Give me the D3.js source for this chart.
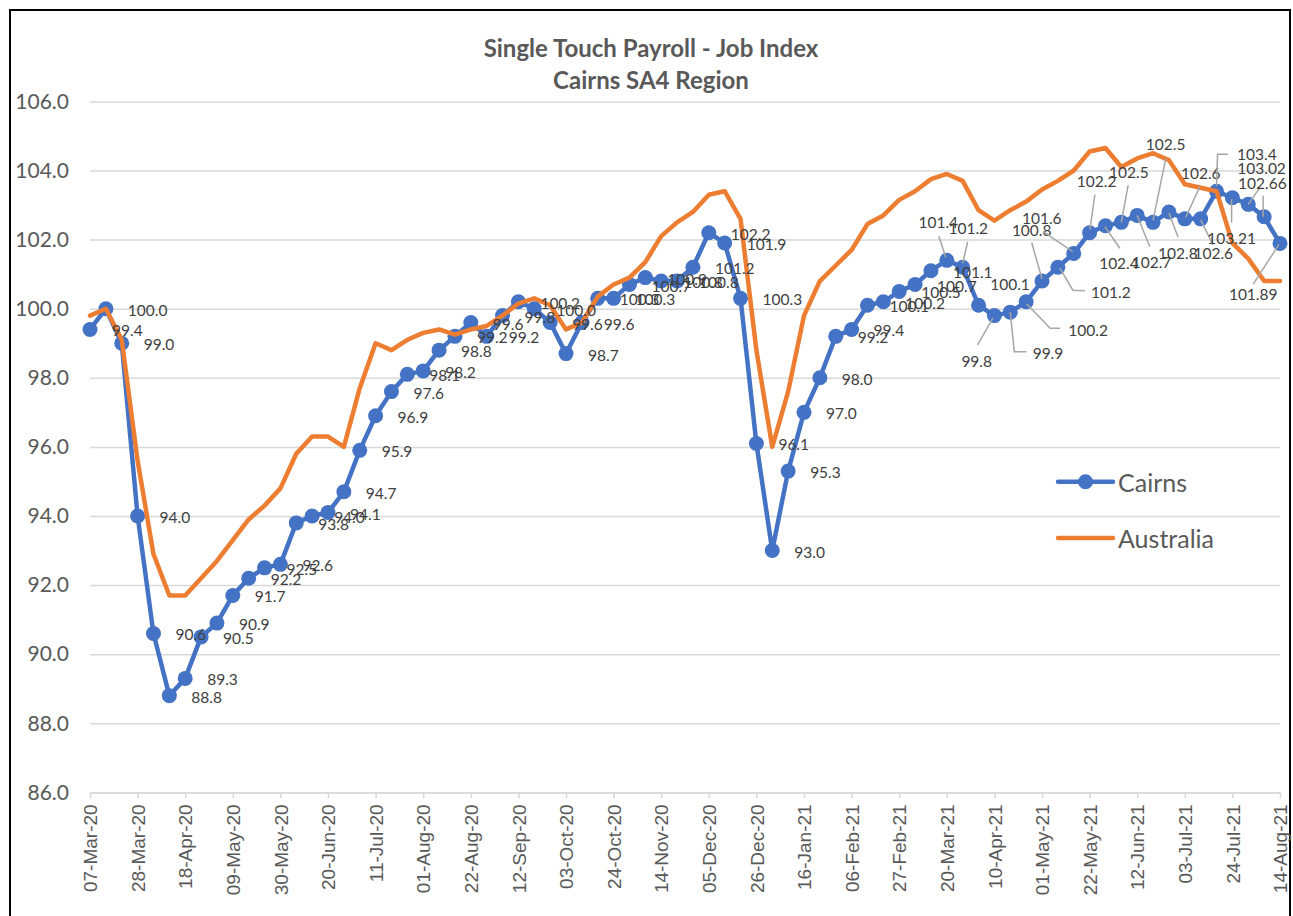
<!DOCTYPE html>
<html><head><meta charset="utf-8">
<script src="https://cdn.jsdelivr.net/npm/d3@7"></script>
<style>body{margin:0;background:#fff}svg{display:block}</style>
</head><body>
<svg id="c" width="1293" height="916"></svg>
<script>
// ---------- DATA ----------
const weeks = [
 "2020-03-07","2020-03-14","2020-03-21","2020-03-28","2020-04-04","2020-04-11","2020-04-18","2020-04-25",
 "2020-05-02","2020-05-09","2020-05-16","2020-05-23","2020-05-30","2020-06-06","2020-06-13","2020-06-20",
 "2020-06-27","2020-07-04","2020-07-11","2020-07-18","2020-07-25","2020-08-01","2020-08-08","2020-08-15",
 "2020-08-22","2020-08-29","2020-09-05","2020-09-12","2020-09-19","2020-09-26","2020-10-03","2020-10-10",
 "2020-10-17","2020-10-24","2020-10-31","2020-11-07","2020-11-14","2020-11-21","2020-11-28","2020-12-05",
 "2020-12-12","2020-12-19","2020-12-26","2021-01-02","2021-01-09","2021-01-16","2021-01-23","2021-01-30",
 "2021-02-06","2021-02-13","2021-02-20","2021-02-27","2021-03-06","2021-03-13","2021-03-20","2021-03-27",
 "2021-04-03","2021-04-10","2021-04-17","2021-04-24","2021-05-01","2021-05-08","2021-05-15","2021-05-22",
 "2021-05-29","2021-06-05","2021-06-12","2021-06-19","2021-06-26","2021-07-03","2021-07-10","2021-07-17",
 "2021-07-24","2021-07-31","2021-08-07","2021-08-14"];

const cairns = [
 99.4, 100.0, 99.0, 94.0, 90.6, 88.8, 89.3, 90.5, 90.9, 91.7,
 92.2, 92.5, 92.6, 93.8, 94.0, 94.1, 94.7, 95.9, 96.9, 97.6,
 98.1, 98.2, 98.8, 99.2, 99.6, 99.2, 99.8, 100.2, 100.0, 99.6,
 98.7, 99.6, 100.3, 100.3, 100.7, 100.9, 100.8, 100.8, 101.2, 102.2,
 101.9, 100.3, 96.1, 93.0, 95.3, 97.0, 98.0, 99.2, 99.4, 100.1,
 100.2, 100.5, 100.7, 101.1, 101.4, 101.2, 100.1, 99.8, 99.9, 100.2,
 100.8, 101.2, 101.6, 102.2, 102.4, 102.5, 102.7, 102.5, 102.8, 102.6,
 102.6, 103.4, 103.21, 103.02, 102.66, 101.89];

const australia = [
 99.8, 100.0, 99.1, 95.6, 92.9, 91.7, 91.7, 92.2, 92.7, 93.3,
 93.9, 94.3, 94.8, 95.8, 96.3, 96.3, 96.0, 97.7, 99.0, 98.8,
 99.1, 99.3, 99.4, 99.25, 99.4, 99.5, 99.8, 100.15, 100.3, 100.1,
 99.4, 99.6, 100.35, 100.7, 100.9, 101.35, 102.1, 102.5, 102.8, 103.3,
 103.4, 102.6, 98.8, 96.0, 97.6, 99.8, 100.8, 101.25, 101.7, 102.45,
 102.7, 103.15, 103.4, 103.75, 103.9, 103.7, 102.85, 102.55, 102.85, 103.1,
 103.45, 103.7, 104.0, 104.55, 104.65, 104.1, 104.35, 104.5, 104.3, 103.6,
 103.5, 103.4, 101.9, 101.45, 100.8, 100.8];

const yTicks = [86, 88, 90, 92, 94, 96, 98, 100, 102, 104, 106];
const xTickEvery = 3;
const seriesNames = ["Cairns", "Australia"];
const titleLines = ["Single Touch Payroll - Job Index", "Cairns SA4 Region"];

// ---------- LAYOUT (label nudges, relative to the point) ----------
const labelLayout = {
 54:{c:[-8.5,-38.6], l:[[-8,-24],[-1,-3]]},
 55:{c:[5.6,-39],   l:[[5,-25.5],[0,-4]]},
 56:{c:[31.5,-21.6]},
 57:{c:[-17.7,45],  l:[[-17,29.5],[-1.5,2.5]]},
 58:{c:[37.7,40.5], l:[[0,0],[4,39.5],[16,39.5]]},
 59:{c:[62,28],     l:[[0.5,2],[24,26.5],[34,26.5]]},
 60:{c:[-10.3,-51], l:[[-10.3,-38.5],[0,-2]]},
 61:{c:[53,24.5],   l:[[2,1],[15,23],[27,23.5]]},
 62:{c:[-32,-35],   l:[[-30.5,-21.7],[-1,-1.7]]},
 63:{c:[7,-51.5],   l:[[5.3,-38.2],[0.3,-3]]},
 64:{c:[13.5,37.5], l:[[-0.6,1],[14.4,22.5]]},
 65:{c:[7.5,-50.6], l:[[6.8,-37.3],[0,0]]},
 66:{c:[14.3,46.3], l:[[0,0],[12.6,31.3]]},
 67:{c:[12.5,-78.3],l:[[12.7,-64],[0,-2]]},
 68:{c:[8.9,40.7],  l:[[0,1],[9.2,25.3]]},
 69:{c:[16,-45.6],  l:[[15,-32.2],[1,-1.6]]},
 70:{c:[12.6,34.4], l:[[0,1],[12.4,26]]},
 71:{c:[40.4,-36.9],l:[[11.7,-37],[1,-37],[0,-5]]},
 72:{c:[-0.8,40.5], l:[[-0.8,1.5],[-0.8,25]]},
 73:{c:[13.3,-36],  l:[[0,0],[11.6,-16.7]]},
 74:{c:[-1.8,-34],  l:[[-1,0],[-1,-21]]},
 75:{c:[-26.8,50.8],l:[[-26.8,40.8],[-1,1]]}
};

// ---------- CHART ----------
const BLUE = "#4472C4", ORANGE = "#ED7D31";
const FONT = "Lato, 'Open Sans', sans-serif";
const parse = d3.timeParse("%Y-%m-%d");
const dates = weeks.map(parse);
const svg = d3.select("#c");
svg.append("rect").attr("width",1293).attr("height",916).attr("fill","#fff");

const pLeft = 90, pRight = 1280, pTop = 101.4, pBottom = 792.4;
const x = d3.scaleTime().domain(d3.extent(dates)).range([pLeft, pRight]);
const y = d3.scaleLinear().domain([86, 106]).range([pBottom, pTop]);

// frame
svg.append("rect").attr("x",10).attr("y",10).attr("width",1280).attr("height",1000)
  .attr("fill","none").attr("stroke","#000").attr("stroke-width",2);

// title
svg.append("g").selectAll("text").data(titleLines).join("text")
  .attr("x", 651).attr("y", (d,i) => 56.5 + i*32)
  .attr("text-anchor","middle").attr("font-family",FONT).attr("font-weight","bold")
  .attr("font-size",24).attr("fill","#595959").text(d => d);

// y axis with gridlines
const yAxis = svg.append("g").attr("transform",`translate(${pLeft},0)`)
  .call(d3.axisLeft(y).tickValues(yTicks).tickFormat(d3.format(".1f"))
        .tickSize(-(pRight-pLeft)).tickPadding(21));
yAxis.select(".domain").remove();
yAxis.selectAll(".tick line").attr("stroke","#D9D9D9").attr("stroke-width",1.5);
yAxis.selectAll(".tick text").attr("font-family",FONT).attr("font-size",21).attr("fill","#595959");

// x axis
const xTickVals = dates.filter((d,i) => i % xTickEvery === 0);
const xAxis = svg.append("g").attr("transform",`translate(0,${pBottom})`)
  .call(d3.axisBottom(x).tickValues(xTickVals).tickFormat(d3.timeFormat("%d-%b-%y")).tickSize(6).tickSizeOuter(0));
xAxis.select(".domain").attr("stroke","#D9D9D9").attr("stroke-width",1.5);
xAxis.selectAll(".tick line").attr("stroke","#D9D9D9").attr("stroke-width",1.5);
xAxis.selectAll(".tick text")
  .attr("font-family","'Liberation Sans', Arial, sans-serif").attr("font-size",19).attr("fill","#595959")
  .attr("transform","rotate(-90)").attr("x",-12).attr("y",0).attr("dy","0.35em")
  .style("text-anchor","end");

// lines
const line = d3.line().x((d,i) => x(dates[i])).y(d => y(d));
const gC = svg.append("g");
gC.append("path").attr("d", line(cairns)).attr("fill","none").attr("stroke",BLUE)
  .attr("stroke-width",4.5).attr("stroke-linejoin","round").attr("stroke-linecap","round");
gC.selectAll("circle").data(cairns).join("circle")
  .attr("cx",(d,i)=>x(dates[i])).attr("cy",d=>y(d)).attr("r",7.5).attr("fill",BLUE);

svg.append("path").attr("d", line(australia)).attr("fill","none").attr("stroke",ORANGE)
  .attr("stroke-width",4.5).attr("stroke-linejoin","round").attr("stroke-linecap","round");

// data labels
const fmt = v => { const s = String(v); const dec = s.includes(".") ? s.split(".")[1].length : 0; return dec <= 1 ? v.toFixed(1) : s; };
const gL = svg.append("g");
cairns.forEach((v,i) => {
  const px = x(dates[i]), py = y(v);
  const lay = labelLayout[i];
  if (lay && lay.l) {
    gL.append("path").attr("d", d3.line()(lay.l.map(p => [px+p[0], py+p[1]])))
      .attr("fill","none").attr("stroke","#A6A6A6").attr("stroke-width",1.5);
  }
  const t = gL.append("text").attr("font-family",FONT).attr("font-size",15.5).attr("fill","#404040")
     .attr("dominant-baseline","central").text(fmt(v));
  if (lay) t.attr("x",px+lay.c[0]).attr("y",py+lay.c[1]).attr("text-anchor","middle");
  else t.attr("x",px+22).attr("y",py+1).attr("text-anchor","start");
});

// legend
const leg = svg.append("g");
[[seriesNames[0],BLUE,481.7,true],[seriesNames[1],ORANGE,538,false]].forEach(([name,col,ly,mk]) => {
  leg.append("line").attr("x1",1058).attr("x2",1113).attr("y1",ly).attr("y2",ly)
    .attr("stroke",col).attr("stroke-width",4.5).attr("stroke-linecap","round");
  if (mk) leg.append("circle").attr("cx",1085.5).attr("cy",ly).attr("r",7.5).attr("fill",col);
  leg.append("text").attr("x",1118).attr("y",ly).attr("dominant-baseline","central")
    .attr("font-family",FONT).attr("font-size",25).attr("fill","#595959").text(name);
});
</script>
</body></html>
